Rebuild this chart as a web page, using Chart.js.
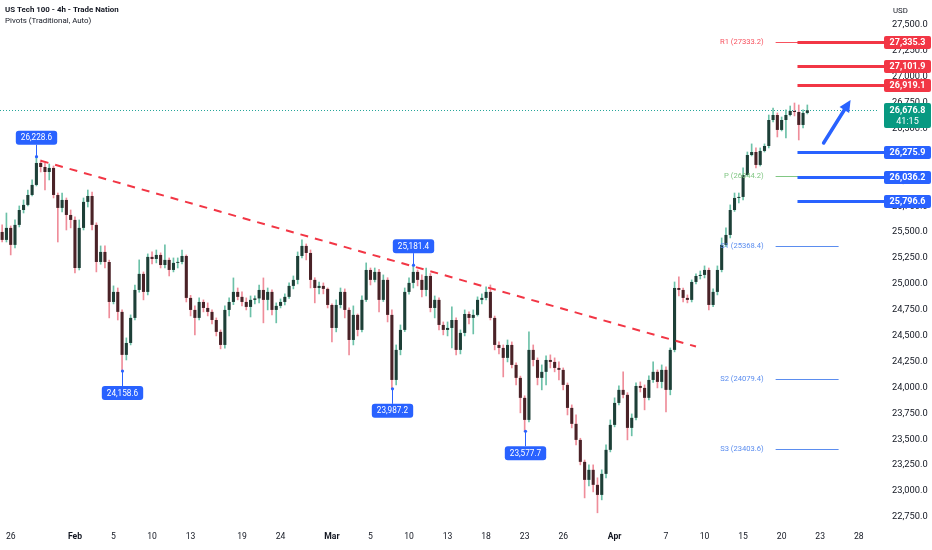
<!DOCTYPE html>
<html>
<head>
<meta charset="utf-8">
<title>US Tech 100 - 4h</title>
<script src="https://cdn.jsdelivr.net/npm/chart.js@4.4.1/dist/chart.umd.min.js"></script>
<style>
  html, body { margin: 0; padding: 0; background: #ffffff; }
  #wrap { position: relative; width: 932px; height: 550px; }
</style>
</head>
<body>
<div id="wrap"><canvas id="chart"></canvas></div>
<script>
'use strict';
// candles, one bar per slot (3 slots per trading day)
var opens = [
  25502, 25425, 25541, 25377, 25570, 25714, 25763, 25859, 25956, 26168,
  26129, 26081, 26120, 25859, 25734, 25811, 25666, 25618, 25154, 25541,
  25792, 25849, 25570, 25212, 25309, 25212, 24826, 24923, 24730, 24315,
  24430, 24672, 24942, 25097, 24923, 25261, 25241, 25280, 25183, 25232,
  25135, 25203, 25212, 25270, 24865, 24749, 24672, 24826, 24768, 24730,
  24652, 24537, 24411, 24749, 24826, 24923, 24875, 24826, 24778, 24846,
  24860, 24942, 24846, 24923, 24749, 24788, 24826, 24875, 24981, 25039,
  25270, 25367, 25299, 25039, 24961, 24981, 24952, 24797, 24575, 24797,
  24923, 24749, 24459, 24701, 24556, 24846, 25135, 25039, 25116, 24846,
  25039, 24701, 24073, 24363, 24556, 24923, 25010, 25116, 25039, 24942,
  25077, 24768, 24846, 24604, 24556, 24575, 24652, 24363, 24527, 24710,
  24672, 24701, 24846, 24865, 24923, 24672, 24411, 24382, 24286, 24411,
  24218, 24093, 23900, 23687, 24363, 24266, 24093, 24151, 24266, 24247,
  24189, 24170, 24025, 23803, 23649, 23494, 23282, 23108, 23205, 23060,
  22963, 23166, 23398, 23639, 23851, 23977, 23929, 23610, 23707, 24015,
  23996, 23900, 24073, 24151, 24054, 24170, 23977, 24363, 24961, 24942,
  24865, 24846, 25019, 25077, 25087, 25135, 24797, 24923, 25135, 25377,
  25473, 25714, 25830, 25840, 26052, 26245, 26274, 26149, 26284, 26332,
  26583, 26631, 26487, 26583, 26631, 26670, 26660, 26535, 26651
];
var highs = [
  25570, 25685, 25560, 25618, 25753, 25811, 25907, 26004, 26228.6, 26197,
  26168, 26158, 26139, 25878, 25878, 25830, 25714, 25647, 25618, 25830,
  25907, 25888, 25590, 25367, 25367, 25230, 24981, 24961, 24750, 24479,
  24701, 24990, 25232, 25116, 25290, 25309, 25328, 25300, 25377, 25251,
  25251, 25251, 25328, 25280, 24890, 24788, 24865, 24846, 24817, 24750,
  24672, 24556, 24788, 24865, 25058, 24961, 24923, 24865, 24884, 24884,
  24990, 25058, 24961, 24942, 24817, 24855, 24904, 25010, 25077, 25309,
  25425, 25386, 25328, 25060, 25019, 25010, 24961, 24807, 24846, 24961,
  24952, 24770, 24788, 24710, 24884, 25203, 25154, 25154, 25140, 25087,
  25060, 24749, 24411, 24604, 24961, 25058, 25181.4, 25135, 25087, 25154,
  25100, 24884, 24865, 24633, 24633, 24778, 24672, 24556, 24749, 24730,
  24749, 24875, 24904, 24971, 24990, 24690, 24440, 24411, 24459, 24440,
  24237, 24110, 23920, 24537, 24411, 24286, 24218, 24305, 24315, 24286,
  24247, 24189, 24044, 23832, 23735, 23510, 23300, 23253, 23253, 23128,
  23205, 23446, 23687, 23900, 24015, 24151, 23950, 23745, 24044, 24054,
  24025, 24112, 24247, 24170, 24218, 24199, 24382, 25019, 25068, 24961,
  24894, 25039, 25097, 25125, 25174, 25154, 24952, 25174, 25444, 25541,
  25763, 25878, 25878, 26120, 26274, 26352, 26313, 26313, 26352, 26631,
  26699, 26651, 26612, 26680, 26718, 26747, 26728, 26680, 26728
];
var lows = [
  25405, 25405, 25280, 25348, 25550, 25685, 25753, 25849, 25946, 26081,
  25907, 26004, 25830, 25405, 25695, 25521, 25541, 25106, 25135, 25521,
  25743, 25521, 25116, 25190, 25154, 24672, 24807, 24652, 24158.6, 24266,
  24411, 24652, 24920, 24846, 24894, 25193, 25203, 25154, 25154, 25077,
  25116, 25154, 25193, 24826, 24691, 24508, 24652, 24730, 24691, 24614,
  24498, 24373, 24380, 24691, 24800, 24846, 24788, 24749, 24681, 24807,
  24817, 24624, 24749, 24701, 24624, 24768, 24797, 24860, 24952, 25000,
  25250, 25232, 24961, 24817, 24904, 24904, 24768, 24440, 24537, 24768,
  24672, 24315, 24411, 24498, 24537, 24830, 24990, 25019, 24730, 24830,
  24633, 23987.2, 24025, 24315, 24540, 24900, 24961, 24981, 24875, 24884,
  24730, 24672, 24556, 24508, 24498, 24382, 24315, 24324, 24498, 24614,
  24517, 24690, 24807, 24845, 24652, 24363, 24324, 24102, 24247, 24189,
  24025, 23755, 23577.7, 23668, 24208, 24025, 23977, 24025, 24189, 24151,
  24073, 23977, 23735, 23610, 23446, 23253, 22934, 23050, 22992, 22790,
  22915, 23128, 23378, 23620, 23832, 23900, 23494, 23533, 23687, 23957,
  23784, 23880, 24050, 23996, 23996, 23765, 23929, 24344, 24884, 24826,
  24817, 24826, 25000, 25048, 25058, 24749, 24780, 24894, 25116, 25360,
  25444, 25700, 25782, 25811, 26043, 26236, 26120, 26139, 26274, 26313,
  26564, 26419, 26477, 26409, 26622, 26622, 26390, 26506, 26641
];
var closes = [
  25425, 25541, 25377, 25570, 25714, 25763, 25859, 25956, 26168, 26129,
  26081, 26120, 25859, 25734, 25811, 25666, 25618, 25154, 25541, 25792,
  25849, 25570, 25212, 25309, 25212, 24826, 24923, 24730, 24315, 24430,
  24672, 24942, 25097, 24923, 25261, 25241, 25280, 25183, 25232, 25135,
  25203, 25212, 25270, 24865, 24749, 24672, 24826, 24768, 24730, 24652,
  24537, 24411, 24749, 24826, 24923, 24875, 24826, 24778, 24846, 24860,
  24942, 24846, 24923, 24749, 24788, 24826, 24875, 24981, 25039, 25270,
  25367, 25299, 25039, 24961, 24981, 24952, 24797, 24575, 24797, 24923,
  24749, 24459, 24701, 24556, 24846, 25135, 25039, 25116, 24846, 25039,
  24701, 24073, 24363, 24556, 24923, 25010, 25116, 25039, 24942, 25077,
  24768, 24846, 24604, 24556, 24575, 24652, 24363, 24527, 24710, 24672,
  24701, 24846, 24865, 24923, 24672, 24411, 24382, 24286, 24411, 24218,
  24093, 23900, 23687, 24363, 24266, 24093, 24151, 24266, 24247, 24189,
  24170, 24025, 23803, 23649, 23494, 23282, 23108, 23205, 23060, 22963,
  23166, 23398, 23639, 23851, 23977, 23929, 23610, 23707, 24015, 23996,
  23900, 24073, 24151, 24054, 24170, 23977, 24363, 24961, 24942, 24865,
  24846, 25019, 25077, 25087, 25135, 24797, 24923, 25135, 25377, 25473,
  25714, 25830, 25840, 26052, 26245, 26274, 26149, 26284, 26332, 26583,
  26631, 26487, 26583, 26631, 26670, 26660, 26535, 26651, 26676.8
];

// x axis: slots incl. empty future space, date ticks on some slots
var totalSlots = 205;
var tickSlots = [2, 17, 26, 35, 44, 56, 65, 77, 86, 95, 104, 113, 122, 131, 143, 155, 164, 173, 182, 191, 200];
var tickTexts = ['26', 'Feb', '5', '10', '13', '19', '24', 'Mar', '5', '10', '13', '18', '23', '26', 'Apr', '7', '10', '15', '20', '23', '28'];
var monthTicks = ['Feb', 'Mar', 'Apr'];
var yTicks = [22750, 23000, 23250, 23500, 23750, 24000, 24250, 24500, 24750, 25000,
  25250, 25500, 25750, 26000, 26250, 26500, 26750, 27000, 27250, 27500];

// drawings
var trendSlots = [9, 162];
var trendPrices = [26190, 24395];
var pivotNames = ['R1', 'P', 'S1', 'S2', 'S3'];
var pivotValues = [27333.2, 26044.2, 25368.4, 24079.4, 23403.6];
var levelValues = [27335.3, 27101.9, 26919.1, 26275.9, 26036.2, 25796.6];
var levelIsRes = [true, true, true, false, false, false];
var markSlots = [8, 28, 91, 96, 122];
var markPrices = [26228.6, 24158.6, 23987.2, 25181.4, 23577.7];
var markAbove = [true, false, false, true, false];
var arrowSlots = [191.8, 198.1];
var arrowPrices = [26361, 26776];
var lastPrice = 26676.8;
var countdown = '41:15';

var FONT = 'Roboto, "Liberation Sans", sans-serif';
var upBody = '#1d3f37';
var downBody = '#4a2227';
var upWick = '#6cc1a8';
var downWick = '#ef8d9a';

function isUp(i) {
  return closes[i] >= opens[i];
}
function fmt(v) {
  return v.toLocaleString('en-US', {minimumFractionDigits: 1, maximumFractionDigits: 1});
}

var labels = [];
for (var i = 0; i < totalSlots; i++) {
  labels.push('');
}
for (var j = 0; j < tickSlots.length; j++) {
  labels[tickSlots[j]] = tickTexts[j];
}

var bodyData = opens.map(function (o, k) { return [o, closes[k]]; });
var wickData = lows.map(function (l, k) { return [l, highs[k]]; });
var trendData = labels.map(function () { return null; });
trendData[trendSlots[0]] = trendPrices[0];
trendData[trendSlots[1]] = trendPrices[1];

function box(ctx, x, y, w, h, r, color) {
  ctx.fillStyle = color;
  ctx.beginPath();
  if (ctx.roundRect) {
    ctx.roundRect(x, y, w, h, r);
  } else {
    ctx.rect(x, y, w, h);
  }
  ctx.fill();
}

var overlay = {
  id: 'overlay',
  beforeDatasetsDraw: function (chart) {
    var ctx = chart.ctx;
    var area = chart.chartArea;
    var py = Math.round(chart.scales.y.getPixelForValue(lastPrice)) + 0.5;
    ctx.save();
    ctx.strokeStyle = '#26a69a';
    ctx.lineWidth = 1;
    ctx.setLineDash([1, 2]);
    ctx.beginPath();
    ctx.moveTo(area.left, py);
    ctx.lineTo(area.right, py);
    ctx.stroke();
    ctx.restore();
  },
  afterDraw: function (chart) {
    var ctx = chart.ctx;
    var area = chart.chartArea;
    var xs = chart.scales.x;
    var ys = chart.scales.y;
    var boxLeft = area.right + 6;
    var boxW = chart.width - 1 - boxLeft;
    ctx.save();

    // pivot lines + labels
    var pivotCols = ['#f7525f', '#81c784', '#5b8def', '#5b8def', '#5b8def'];
    var pxFrom = xs.getPixelForValue(180.6);
    var pxTo = xs.getPixelForValue(195.3);
    var pxText = xs.getPixelForValue(177.8);
    ctx.font = '7.6px ' + FONT;
    ctx.textAlign = 'right';
    ctx.textBaseline = 'middle';
    for (var p = 0; p < pivotValues.length; p++) {
      var yy = Math.round(ys.getPixelForValue(pivotValues[p])) + 0.5;
      ctx.strokeStyle = pivotCols[p];
      ctx.lineWidth = 1;
      ctx.beginPath();
      ctx.moveTo(pxFrom, yy);
      ctx.lineTo(pxTo, yy);
      ctx.stroke();
      ctx.fillStyle = pivotCols[p];
      ctx.fillText(pivotNames[p] + ' (' + pivotValues[p].toFixed(1) + ')', pxText, yy);
    }

    // key levels with axis boxes
    var lvFrom = xs.getPixelForValue(185.7);
    for (var l = 0; l < levelValues.length; l++) {
      var ly = Math.round(ys.getPixelForValue(levelValues[l]));
      var col = levelIsRes[l] ? '#f23645' : '#2962ff';
      ctx.fillStyle = col;
      ctx.fillRect(lvFrom, ly - 1, boxLeft - lvFrom, 3);
      box(ctx, boxLeft, ly - 6, boxW, 13, 2, col);
      ctx.fillStyle = '#ffffff';
      ctx.font = 'bold 9px ' + FONT;
      ctx.textAlign = 'center';
      ctx.fillText(fmt(levelValues[l]), boxLeft + boxW / 2, ly + 0.5);
    }

    // last price box
    var lp = Math.round(ys.getPixelForValue(lastPrice));
    box(ctx, boxLeft, lp - 7, boxW, 25, 2, '#089981');
    ctx.fillStyle = '#ffffff';
    ctx.font = 'bold 9px ' + FONT;
    ctx.textAlign = 'center';
    ctx.fillText(fmt(lastPrice), boxLeft + boxW / 2, lp + 0.5);
    ctx.font = '9px ' + FONT;
    ctx.fillText(countdown, boxLeft + boxW / 2, lp + 11.5);

    // high / low marks
    ctx.font = '8.2px ' + FONT;
    for (var m = 0; m < markSlots.length; m++) {
      var mx = Math.round(xs.getPixelForValue(markSlots[m])) + 0.5;
      var my = ys.getPixelForValue(markPrices[m]);
      var txt = fmt(markPrices[m]);
      var tw = ctx.measureText(txt).width + 10;
      var bTop = markAbove[m] ? my - 12 - 14 : my + 15;
      ctx.strokeStyle = '#2962ff';
      ctx.lineWidth = 1;
      ctx.beginPath();
      ctx.moveTo(mx, my);
      ctx.lineTo(mx, markAbove[m] ? bTop + 14 : bTop);
      ctx.stroke();
      ctx.fillStyle = '#2962ff';
      ctx.beginPath();
      ctx.arc(mx, my, 1.6, 0, Math.PI * 2);
      ctx.fill();
      box(ctx, mx - tw / 2, bTop, tw, 14, 3, '#2962ff');
      ctx.fillStyle = '#ffffff';
      ctx.textAlign = 'center';
      ctx.fillText(txt, mx, bTop + 7.5);
    }

    // blue arrow
    var ax0 = xs.getPixelForValue(arrowSlots[0]);
    var ay0 = ys.getPixelForValue(arrowPrices[0]);
    var ax1 = xs.getPixelForValue(arrowSlots[1]);
    var ay1 = ys.getPixelForValue(arrowPrices[1]);
    var ang = Math.atan2(ay1 - ay0, ax1 - ax0);
    var head = 13;
    ctx.strokeStyle = '#2962ff';
    ctx.lineWidth = 3.5;
    ctx.lineCap = 'round';
    ctx.beginPath();
    ctx.moveTo(ax0, ay0);
    ctx.lineTo(ax1 - Math.cos(ang) * head * 0.8, ay1 - Math.sin(ang) * head * 0.8);
    ctx.stroke();
    ctx.fillStyle = '#2962ff';
    ctx.beginPath();
    ctx.moveTo(ax1, ay1);
    ctx.lineTo(ax1 - head * Math.cos(ang - 0.45), ay1 - head * Math.sin(ang - 0.45));
    ctx.lineTo(ax1 - head * Math.cos(ang + 0.45), ay1 - head * Math.sin(ang + 0.45));
    ctx.closePath();
    ctx.fill();

    // header texts
    ctx.textAlign = 'left';
    ctx.fillStyle = '#131722';
    ctx.font = 'bold 7.9px ' + FONT;
    ctx.fillText('US Tech 100 - 4h - Trade Nation', 5, 10);
    ctx.font = '7.9px ' + FONT;
    ctx.fillText('Pivots (Traditional, Auto)', 5, 21);
    ctx.font = '7.8px ' + FONT;
    ctx.fillText('USD', area.right + 15, 11);
    ctx.restore();
  }
};

var ctx = document.getElementById('chart').getContext('2d');
var chart = new Chart(ctx, {
  type: 'bar',
  data: {
    labels: labels,
    datasets: [
      {
        type: 'line',
        data: trendData,
        borderColor: '#f23645',
        borderWidth: 2,
        borderDash: [8, 7],
        pointRadius: 0,
        spanGaps: true,
        order: 0
      },
      {
        data: bodyData,
        grouped: false,
        backgroundColor: function (c) { return isUp(c.dataIndex) ? upBody : downBody; },
        barPercentage: 0.72,
        categoryPercentage: 1,
        minBarLength: 1,
        order: 1
      },
      {
        data: wickData,
        grouped: false,
        backgroundColor: function (c) { return isUp(c.dataIndex) ? upWick : downWick; },
        barThickness: 1,
        order: 2
      }
    ]
  },
  options: {
    responsive: true,
    maintainAspectRatio: false,
    animation: false,
    layout: {padding: {left: 0, right: 0, top: 0, bottom: 0}},
    plugins: {
      legend: {display: false},
      tooltip: {enabled: false}
    },
    scales: {
      x: {
        grid: {display: false, drawTicks: false},
        border: {display: false},
        ticks: {
          autoSkip: false,
          maxRotation: 0,
          minRotation: 0,
          padding: 5,
          color: '#131722',
          font: function (c) {
            var t = c.tick ? c.tick.label : '';
            return {family: FONT, size: 8.6, weight: monthTicks.indexOf(t) >= 0 ? 'bold' : 'normal'};
          }
        },
        afterFit: function (s) {
          s.height = 23;
          s.paddingLeft = 0;
          s.paddingRight = 0;
        }
      },
      y: {
        position: 'right',
        min: 22653,
        max: 27741.5,
        grid: {display: false, drawTicks: false},
        border: {display: false},
        ticks: {
          padding: 14,
          color: '#131722',
          font: {family: FONT, size: 9.3},
          callback: function (v) { return fmt(v); }
        },
        afterBuildTicks: function (s) {
          s.ticks = yTicks.map(function (v) { return {value: v}; });
        },
        afterFit: function (s) {
          s.width = 54;
          s.paddingTop = 0;
          s.paddingBottom = 0;
        }
      }
    }
  },
  plugins: [overlay]
});
</script>
</body>
</html>
